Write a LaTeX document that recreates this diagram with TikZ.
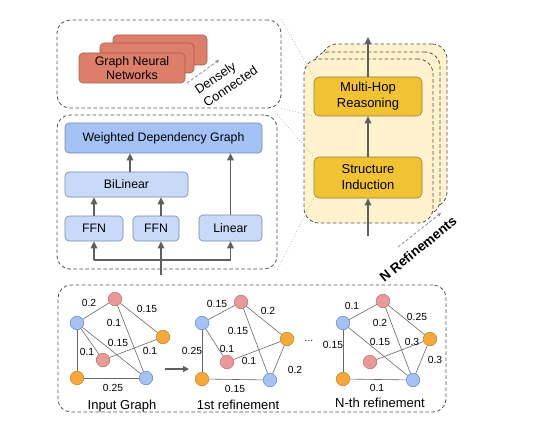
\documentclass[tikz,border=0pt]{standalone}
\usepackage{fontspec}
\setmainfont{Liberation Sans}
\usetikzlibrary{arrows.meta,shapes.geometric}
\definecolor{salmon}{HTML}{DD7E6B}
\definecolor{salmonb}{HTML}{A85A4B}
\definecolor{bluedk}{HTML}{A4C2F4}
\definecolor{bluelt}{HTML}{C9DAF8}
\definecolor{blueb}{HTML}{7088AD}
\definecolor{ylw}{HTML}{F1C232}
\definecolor{ylwb}{HTML}{8F7E55}
\definecolor{stackf}{HTML}{FFF2CC}
\definecolor{nblue}{HTML}{A4C2F4}
\definecolor{nblueb}{HTML}{6F8FC4}
\definecolor{nred}{HTML}{EA9999}
\definecolor{nredb}{HTML}{C47272}
\definecolor{norg}{HTML}{F8A838}
\definecolor{norgb}{HTML}{C8862A}
\definecolor{arrc}{HTML}{5F5F5F}
\definecolor{dashc}{HTML}{505050}
\begin{document}
\begin{tikzpicture}[x=1pt,y=-1pt,
  panel/.style={draw=dashc,dash pattern=on 3.5pt off 2.5pt,line width=0.8pt,rounded corners=13pt,inner sep=0pt},
  stackbox/.style={draw=dashc,dash pattern=on 3.5pt off 2.5pt,line width=0.8pt,fill=stackf,rounded corners=15pt},
  gnnbox/.style={draw=salmonb,fill=salmon,rounded corners=4pt,line width=0.6pt,inner sep=0pt},
  dbox/.style={draw=blueb,fill=bluedk,rounded corners=4pt,line width=0.6pt,inner sep=0pt,font=\fontsize{12.3}{14}\selectfont},
  lbox/.style={draw=blueb,fill=bluelt,rounded corners=4pt,line width=0.6pt,inner sep=0pt,font=\fontsize{12.3}{14}\selectfont},
  ybox/.style={draw=ylwb,fill=ylw,rounded corners=5pt,line width=0.6pt,inner sep=0pt,align=center,font=\fontsize{13}{16}\selectfont},
  arr/.style={draw=arrc,line width=1.4pt,-{Triangle[length=7pt,width=6.5pt]}},
  ln/.style={draw=arrc,line width=1.4pt},
  expand/.style={draw=gray!55,dotted,line width=0.8pt},
  gdash/.style={draw=gray,dash pattern=on 3pt off 2pt,line width=0.7pt,-{Stealth[length=4pt,width=3.5pt]}},
  gv/.style={circle,minimum size=13.5pt,inner sep=0pt,line width=0.6pt},
  vb/.style={gv,draw=nblueb,fill=nblue},
  vr/.style={gv,draw=nredb,fill=nred},
  vo/.style={gv,draw=norgb,fill=norg},
  ge/.style={draw=gray!80!black,line width=0.6pt},
  wl/.style={font=\fontsize{10.3}{12}\selectfont,inner sep=0pt},
  capt/.style={font=\fontsize{13}{15}\selectfont,inner sep=0pt}
]
\useasboundingbox (0,0) rectangle (553,425);

% ---------- top left panel: GNN ----------
\node[panel,minimum width=224pt,minimum height=88pt] (topbox) at (169,64) {};
\node[gnnbox,minimum width=94pt,minimum height=30pt] (g3) at (160,50) {};
\node[gnnbox,minimum width=94pt,minimum height=30pt] (g2) at (147,58) {};
\node[gnnbox,minimum width=106pt,minimum height=30pt,align=center,font=\fontsize{12.4}{14}\selectfont] (g1) at (132,68) {Graph Neural\\Networks};
\coordinate (dcs) at (187,83);
\coordinate (dce) at (219,60);
\draw[gdash] (dcs) -- (dce);
\node[rotate=34,align=left,font=\fontsize{12.8}{15.5}\selectfont,inner sep=0pt] (dc) at (226,80) {Densely\\Connected};

% ---------- mid left panel ----------
\node[panel,minimum width=220pt,minimum height=154pt] (midbox) at (167,192) {};
\node[dbox,minimum width=197pt,minimum height=30pt] (wdg) at (163.5,138) {Weighted Dependency Graph};
\node[lbox,minimum width=123pt,minimum height=25pt] (bil) at (126.5,184.5) {BiLinear};
\node[lbox,minimum width=58pt,minimum height=25pt] (ffn1) at (94,228.5) {FFN};
\node[lbox,minimum width=46pt,minimum height=25pt] (ffn2) at (156,228.5) {FFN};
\node[lbox,minimum width=63pt,minimum height=26pt] (lin) at (230.5,228) {Linear};
\coordinate (b1) at (94,260);
\coordinate (b2) at (161,260);
\coordinate (b3) at (230.5,260);
\coordinate (bdown) at (161,275);
\coordinate (bx) at (130,0);
\draw[ln] (b1) -- (b3);
\draw[ln] (b2) -- (bdown);
\draw[arr] (b1) -- (ffn1.south);
\draw[arr] (b2) -- (ffn2.south -| b2);
\draw[arr] (b3) -- (lin.south);
\draw[arr] (ffn1.north) -- (bil.south -| ffn1.north);
\draw[arr] (ffn2.north -| b2) -- (bil.south -| b2);
\draw[arr] (bil.north -| bx) -- (wdg.south -| bx);
\draw[arr] (lin.north) -- (wdg.south -| lin.north);

% ---------- right stack ----------
\node[stackbox,minimum width=125pt,minimum height=163pt] (s3) at (384.5,125.5) {};
\node[stackbox,minimum width=127pt,minimum height=163pt] (s2) at (376.5,133.5) {};
\node[stackbox,minimum width=129pt,minimum height=164pt] (s1) at (368.5,141) {};
\node[ybox,minimum width=108pt,minimum height=39pt] (mh) at (368,96.5) {Multi-Hop\\Reasoning};
\node[ybox,minimum width=108pt,minimum height=41pt] (si) at (368,177.5) {Structure\\Induction};
\coordinate (topout) at (368,37);
\coordinate (botin) at (368,236);
\draw[arr] (mh.north) -- (topout);
\draw[arr] (si.north) -- (mh.south);
\draw[arr] (botin) -- (si.south);
\coordinate (nrs) at (398,247);
\coordinate (nre) at (441,213);
\draw[gdash] (nrs) -- (nre);
\node[rotate=39,font=\bfseries\fontsize{13.5}{15}\selectfont,inner sep=0pt] (nref) at (418,249) {N Refinements};

% expansion lines
\draw[expand] (topbox.north east) -- (mh.north west);
\draw[expand] (topbox.south east) -- (mh.south west);
\draw[expand] (midbox.north east) -- (si.north west);
\draw[expand] (midbox.south east) -- (si.south west);

% ---------- graph panel ----------
\node[panel,minimum width=388pt,minimum height=127pt] (gp) at (252,348.5) {};

% graph 1
\node[vb] (a1) at (77,323) {};
\node[vr] (r1) at (115,299) {};
\node[vo] (c1) at (163,337) {};
\node[vr] (d1) at (103,360) {};
\node[vo] (e1) at (77,378) {};
\node[vb] (f1) at (146,378) {};
\draw[ge] (a1) -- (r1);
\draw[ge] (r1) -- (c1);
\draw[ge] (r1) -- (f1);
\draw[ge] (a1) -- (f1);
\draw[ge] (a1) -- (d1);
\draw[ge] (d1) -- (c1);
\draw[ge] (a1) -- (e1);
\draw[ge] (e1) -- (f1);
\node[wl] (w11) at (89,303) {0.2};
\node[wl] (w12) at (147,309) {0.15};
\node[wl] (w13) at (114,323) {0.1};
\node[wl] (w14) at (118,343) {0.15};
\node[wl] (w15) at (87,352) {0.1};
\node[wl] (w16) at (150,351) {0.1};
\node[wl] (w17) at (113,388) {0.25};
\node[capt] (cap1) at (122,406) {Input Graph};

\coordinate (ga) at (165,369);
\coordinate (gb) at (189,369);
\draw[draw=arrc,line width=1.2pt,-{Triangle[length=6pt,width=6pt]}] (ga) -- (gb);

% graph 2
\node[vb] (a2) at (202,323) {};
\node[vr] (r2) at (241,302) {};
\node[vo] (c2) at (287,339) {};
\node[vr] (d2) at (227,362) {};
\node[vo] (e2) at (202,379) {};
\node[vb] (f2) at (270,380) {};
\draw[ge] (a2) -- (r2);
\draw[ge] (r2) -- (c2);
\draw[ge] (r2) -- (f2);
\draw[ge] (a2) -- (d2);
\draw[ge] (d2) -- (c2);
\draw[ge] (a2) -- (e2);
\draw[ge] (e2) -- (f2);
\draw[ge] (c2) -- (f2);
\node[wl] (w21) at (217,304) {0.15};
\node[wl] (w22) at (268,311) {0.2};
\node[wl] (w23) at (238,331) {0.15};
\node[wl] (w24) at (227,349) {0.1};
\node[wl] (w25) at (249,361) {0.1};
\node[wl] (w26) at (192,351) {0.25};
\node[wl] (w27) at (235,389) {0.15};
\node[wl] (w28) at (295,370) {0.2};
\node[capt] (cap2) at (238,405) {1st refinement};
\node[wl] (dots) at (309,341) {...};

% graph 3
\node[vb] (a3) at (343,323) {};
\node[vr] (r3) at (383,301) {};
\node[vo] (c3) at (430,339) {};
\node[vr] (d3) at (370,362) {};
\node[vo] (e3) at (343,379) {};
\node[vb] (f3) at (413,380) {};
\draw[ge] (a3) -- (r3);
\draw[ge] (r3) -- (c3);
\draw[ge] (r3) -- (f3);
\draw[ge] (a3) -- (f3);
\draw[ge] (d3) -- (c3);
\draw[ge] (a3) -- (e3);
\draw[ge] (e3) -- (f3);
\draw[ge] (c3) -- (f3);
\node[wl] (w31) at (352,306) {0.1};
\node[wl] (w32) at (417,317) {0.25};
\node[wl] (w33) at (380,323) {0.2};
\node[wl] (w34) at (380,342) {0.15};
\node[wl] (w35) at (412,342) {0.3};
\node[wl] (w36) at (333,345) {0.15};
\node[wl] (w37) at (377,388) {0.1};
\node[wl] (w38) at (435,360) {0.3};
\node[capt] (cap3) at (380,403) {N-th refinement};
\end{tikzpicture}
\end{document}
